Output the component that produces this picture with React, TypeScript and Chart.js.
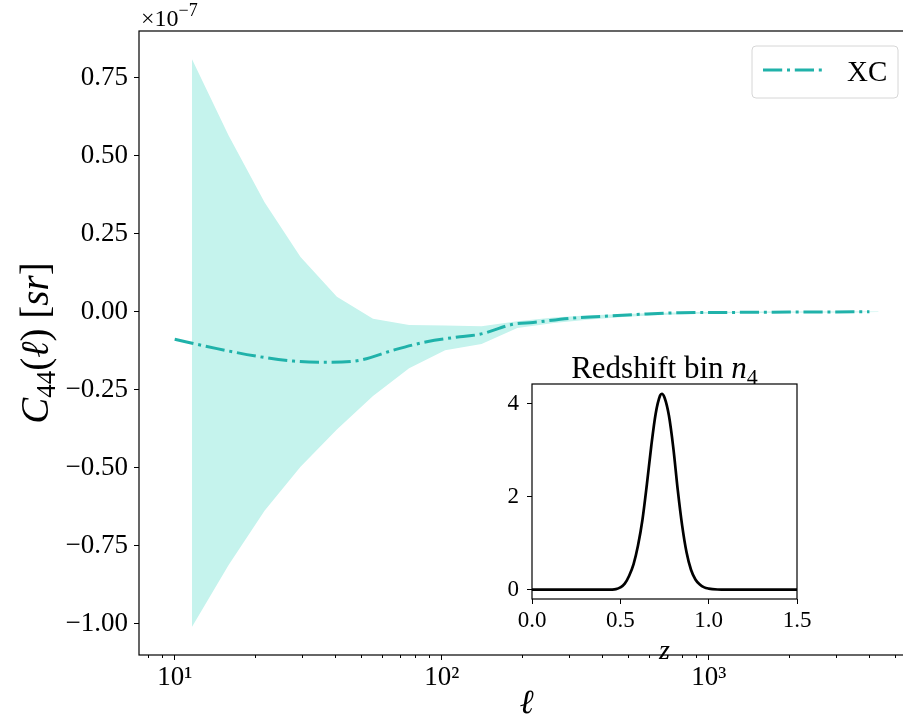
import React, { useEffect, useRef } from 'react';
import { Chart, registerables } from 'chart.js';

Chart.register(...registerables);

const SERIF = "'Liberation Serif', 'DejaVu Serif', serif";
const LINE_COLOR = '#20b2aa';
const BAND_COLOR = '#c5f3ed';

// ---- main panel: C_44(l) in units of 1e-7 sr ----
const ellTheory = [10, 14.4, 20.8, 27.8, 38.2, 49.5, 65.9, 87.9, 117, 139, 185, 220, 303, 427, 587, 782, 1200, 2000, 4000];
const clTheory = [-0.088, -0.118, -0.144, -0.158, -0.162, -0.155, -0.123, -0.096, -0.08, -0.072, -0.04, -0.034, -0.021, -0.013, -0.007, -0.003, -0.002, -0.001, 0.0];

const ellBand = [11.6, 15.9, 21.7, 29.6, 40.5, 55.3, 75.5, 103, 141, 192, 263, 359, 490, 669, 913, 1250, 1700, 2320, 3170, 4330];
const bandUpper = [0.81, 0.566, 0.351, 0.176, 0.048, -0.022, -0.042, -0.044, -0.046, -0.03, -0.018, -0.011, -0.007, -0.003, -0.001, 0.0, 0.001, 0.001, 0.001, 0.001];
const bandLower = [-1.01, -0.812, -0.638, -0.497, -0.377, -0.27, -0.181, -0.123, -0.103, -0.052, -0.036, -0.025, -0.016, -0.01, -0.006, -0.004, -0.003, -0.002, -0.002, -0.001];

const yTicks = [-1.0, -0.75, -0.5, -0.25, 0, 0.25, 0.5, 0.75];
const xMajorTicks = [10, 100, 1000];
const xMinorTicks = [8, 9, 20, 30, 40, 50, 60, 70, 80, 90, 200, 300, 400, 500, 600, 700, 800, 900, 2000, 3000, 4000, 5000];
const X_MIN = 7.35;
const X_MAX = 5875;
const Y_MIN = -1.1;
const Y_MAX = 0.9;

// ---- inset: redshift distribution n_4(z) ----
const zGrid = [0, 0.1, 0.2, 0.3, 0.4, 0.45, 0.475, 0.5, 0.525, 0.55, 0.575, 0.6, 0.625, 0.65, 0.675, 0.7, 0.725, 0.735, 0.75, 0.775, 0.8, 0.825, 0.85, 0.875, 0.9, 0.925, 0.95, 0.975, 1.0, 1.05, 1.1, 1.2, 1.3, 1.4, 1.5];
const nz = [0, 0, 0, 0, 0, 0.003, 0.012, 0.05, 0.13, 0.3, 0.55, 0.95, 1.5, 2.26, 3.09, 3.79, 4.18, 4.22, 4.14, 3.75, 3.05, 2.15, 1.38, 0.8, 0.43, 0.22, 0.11, 0.05, 0.025, 0.005, 0, 0, 0, 0, 0];
const insetXTicks = [0, 0.5, 1.0, 1.5];
const insetYTicks = [0, 2, 4];

const SUP: Record<string, string> = { '0': '⁰', '1': '¹', '2': '²', '3': '³', '4': '⁴', '5': '⁵' };

type Seg = { t: string; size: number; italic?: boolean; dy?: number };
const fontOf = (s: Seg) => `${s.italic ? 'italic ' : ''}${s.size}px ${SERIF}`;

function drawRich(ctx: CanvasRenderingContext2D, segs: Seg[], x: number, y: number, align: 'left' | 'center') {
  ctx.save();
  ctx.textBaseline = 'alphabetic';
  ctx.textAlign = 'left';
  ctx.fillStyle = '#000';
  let total = 0;
  for (const s of segs) {
    ctx.font = fontOf(s);
    total += ctx.measureText(s.t).width;
  }
  let cx = align === 'center' ? x - total / 2 : x;
  for (const s of segs) {
    ctx.font = fontOf(s);
    ctx.fillText(s.t, cx, y + (s.dy || 0));
    cx += ctx.measureText(s.t).width;
  }
  ctx.restore();
}

const framePlugin = {
  id: 'frame',
  afterDatasetsDraw(chart: any) {
    const { ctx, chartArea: a } = chart;
    ctx.save();
    ctx.strokeStyle = '#000';
    ctx.lineWidth = 1.2;
    ctx.strokeRect(a.left, a.top, a.right - a.left, a.bottom - a.top);
    ctx.restore();
  },
};

const whiteAreaPlugin = {
  id: 'whiteArea',
  beforeDraw(chart: any) {
    const { ctx, chartArea: a } = chart;
    ctx.save();
    ctx.fillStyle = '#fff';
    ctx.fillRect(a.left, a.top, a.right - a.left, a.bottom - a.top);
    ctx.restore();
  },
};

const mainDecorPlugin = {
  id: 'mainDecor',
  afterDraw(chart: any) {
    const { ctx, chartArea: a } = chart;
    // offset text
    drawRich(ctx, [
      { t: '×10', size: 24 },
      { t: '−7', size: 18, dy: -10 },
    ], a.left + 2, 26, 'left');
    // y-axis label (rotated)
    ctx.save();
    ctx.translate(48, (a.top + a.bottom) / 2);
    ctx.rotate(-Math.PI / 2);
    drawRich(ctx, [
      { t: 'C', size: 39, italic: true },
      { t: '44', size: 27, dy: 7 },
      { t: '(', size: 39 },
      { t: 'ℓ', size: 39, italic: true },
      { t: ')', size: 39 },
      { t: ' ', size: 39 },
      { t: '[', size: 39 },
      { t: 'sr', size: 39, italic: true },
      { t: ']', size: 39 },
    ], 0, 0, 'center');
    ctx.restore();
    // legend
    const ds = chart.data.datasets[0];
    const w = 146, h = 52;
    const bx = a.right - 16 - w;
    const by = a.top + 15;
    ctx.save();
    ctx.beginPath();
    const r = 4;
    ctx.moveTo(bx + r, by);
    ctx.lineTo(bx + w - r, by);
    ctx.arcTo(bx + w, by, bx + w, by + r, r);
    ctx.lineTo(bx + w, by + h - r);
    ctx.arcTo(bx + w, by + h, bx + w - r, by + h, r);
    ctx.lineTo(bx + r, by + h);
    ctx.arcTo(bx, by + h, bx, by + h - r, r);
    ctx.lineTo(bx, by + r);
    ctx.arcTo(bx, by, bx + r, by, r);
    ctx.closePath();
    ctx.fillStyle = 'rgba(255,255,255,0.8)';
    ctx.fill();
    ctx.strokeStyle = '#d6d6d6';
    ctx.lineWidth = 1;
    ctx.stroke();
    ctx.beginPath();
    ctx.setLineDash(ds.borderDash);
    ctx.lineCap = 'butt';
    ctx.strokeStyle = ds.borderColor;
    ctx.lineWidth = ds.borderWidth;
    ctx.moveTo(bx + 11, by + 24);
    ctx.lineTo(bx + 70, by + 24);
    ctx.stroke();
    ctx.setLineDash([]);
    ctx.restore();
    drawRich(ctx, [{ t: ds.label, size: 29 }], bx + 95, by + 35, 'left');
  },
};

const insetDecorPlugin = {
  id: 'insetDecor',
  afterDraw(chart: any) {
    const { ctx, chartArea: a } = chart;
    drawRich(ctx, [
      { t: 'Redshift bin ', size: 31 },
      { t: 'n', size: 31, italic: true },
      { t: '4', size: 22, dy: 6 },
    ], (a.left + a.right) / 2, a.top - 6, 'center');
  },
};

const signed = (v: number, d: number) => (v < 0 ? '−' + Math.abs(v).toFixed(d) : v.toFixed(d));

export default function App() {
  const mainRef = useRef<HTMLCanvasElement>(null);
  const insetRef = useRef<HTMLCanvasElement>(null);

  useEffect(() => {
    const main = new Chart(mainRef.current as HTMLCanvasElement, {
      type: 'line',
      data: {
        datasets: [
          {
            label: 'XC',
            data: ellTheory.map((x, i) => ({ x, y: clTheory[i] })),
            borderColor: LINE_COLOR,
            borderWidth: 3,
            borderDash: [19.2, 4.8, 3, 4.8],
            borderCapStyle: 'butt',
            pointRadius: 0,
            fill: false,
            cubicInterpolationMode: 'monotone',
            xAxisID: 'x',
            yAxisID: 'y',
          },
          {
            label: 'upper',
            data: ellBand.map((x, i) => ({ x, y: bandUpper[i] })),
            borderWidth: 0,
            borderColor: 'rgba(0,0,0,0)',
            backgroundColor: BAND_COLOR,
            pointRadius: 0,
            fill: '+1',
            tension: 0,
            xAxisID: 'x',
            yAxisID: 'y',
          },
          {
            label: 'lower',
            data: ellBand.map((x, i) => ({ x, y: bandLower[i] })),
            borderWidth: 0,
            borderColor: 'rgba(0,0,0,0)',
            backgroundColor: BAND_COLOR,
            pointRadius: 0,
            fill: false,
            tension: 0,
            xAxisID: 'x',
            yAxisID: 'y',
          },
        ],
      } as any,
      options: {
        responsive: false,
        animation: false,
        devicePixelRatio: 1,
        layout: { padding: { left: 0, top: 31, right: 6, bottom: 0 } },
        plugins: { legend: { display: false }, tooltip: { enabled: false } },
        scales: {
          x: {
            type: 'logarithmic',
            axis: 'x',
            position: 'bottom',
            weight: 1,
            bounds: 'data',
            min: X_MIN,
            max: X_MAX,
            afterBuildTicks: (s: any) => {
              s.ticks = xMajorTicks.map((v) => ({ value: v, major: true }));
            },
            afterFit: (s: any) => {
              s.height = 66;
            },
            grid: { display: true, drawOnChartArea: false, drawTicks: true, tickLength: 5, tickColor: '#000', tickWidth: 1 },
            border: { display: false },
            ticks: {
              autoSkip: false,
              maxRotation: 0,
              padding: 2,
              color: '#000',
              font: { family: SERIF, size: 27 },
              callback: (v: any) => {
                const e = Math.round(Math.log10(Number(v)));
                return '10' + (SUP[String(e)] || '');
              },
            },
            title: {
              display: true,
              text: 'ℓ',
              color: '#000',
              font: { family: SERIF, size: 34, style: 'italic', lineHeight: 1 },
              padding: { top: 0, bottom: 0 },
            },
          },
          xm: {
            type: 'logarithmic',
            axis: 'x',
            position: 'bottom',
            weight: 0,
            bounds: 'data',
            min: X_MIN,
            max: X_MAX,
            afterBuildTicks: (s: any) => {
              s.ticks = xMinorTicks.map((v) => ({ value: v }));
            },
            afterFit: (s: any) => {
              s.height = 0;
            },
            grid: { display: true, drawOnChartArea: false, drawTicks: true, tickLength: 3, tickColor: '#000', tickWidth: 1 },
            border: { display: false },
            ticks: { display: false, autoSkip: false },
          },
          y: {
            type: 'linear',
            position: 'left',
            bounds: 'data',
            min: Y_MIN,
            max: Y_MAX,
            afterBuildTicks: (s: any) => {
              s.ticks = yTicks.map((v) => ({ value: v }));
            },
            afterFit: (s: any) => {
              s.width = 139;
            },
            grid: { display: true, drawOnChartArea: false, drawTicks: true, tickLength: 5, tickColor: '#000', tickWidth: 1 },
            border: { display: false },
            ticks: {
              autoSkip: false,
              padding: 6,
              color: '#000',
              font: { family: SERIF, size: 27 },
              callback: (v: any) => signed(Number(v), 2),
            },
          },
        },
      } as any,
      plugins: [framePlugin, mainDecorPlugin],
    });

    const inset = new Chart(insetRef.current as HTMLCanvasElement, {
      type: 'line',
      data: {
        datasets: [
          {
            label: 'n4',
            data: zGrid.map((x, i) => ({ x, y: nz[i] })),
            borderColor: '#000',
            borderWidth: 2.7,
            pointRadius: 0,
            fill: false,
            cubicInterpolationMode: 'monotone',
          },
        ],
      } as any,
      options: {
        responsive: false,
        animation: false,
        devicePixelRatio: 1,
        layout: { padding: { left: 0, top: 39, right: 43, bottom: 0 } },
        plugins: { legend: { display: false }, tooltip: { enabled: false } },
        scales: {
          x: {
            type: 'linear',
            bounds: 'data',
            min: 0,
            max: 1.5,
            afterBuildTicks: (s: any) => {
              s.ticks = insetXTicks.map((v) => ({ value: v }));
            },
            afterFit: (s: any) => {
              s.height = 67;
            },
            grid: { display: true, drawOnChartArea: false, drawTicks: true, tickLength: 5, tickColor: '#000', tickWidth: 1 },
            border: { display: false },
            ticks: {
              autoSkip: false,
              maxRotation: 0,
              padding: 3,
              color: '#000',
              font: { family: SERIF, size: 23 },
              callback: (v: any) => Number(v).toFixed(1),
            },
            title: {
              display: true,
              text: 'z',
              color: '#000',
              font: { family: SERIF, size: 28, style: 'italic', lineHeight: 1 },
              padding: { top: 0, bottom: 0 },
            },
          },
          y: {
            type: 'linear',
            bounds: 'data',
            min: -0.2,
            max: 4.43,
            afterBuildTicks: (s: any) => {
              s.ticks = insetYTicks.map((v) => ({ value: v }));
            },
            afterFit: (s: any) => {
              s.width = 42;
            },
            grid: { display: true, drawOnChartArea: false, drawTicks: true, tickLength: 5, tickColor: '#000', tickWidth: 1 },
            border: { display: false },
            ticks: {
              autoSkip: false,
              padding: 8,
              color: '#000',
              font: { family: SERIF, size: 23 },
              callback: (v: any) => String(v),
            },
          },
        },
      } as any,
      plugins: [whiteAreaPlugin, framePlugin, insetDecorPlugin],
    });

    return () => {
      main.destroy();
      inset.destroy();
    };
  }, []);

  return (
    <div style={{ position: 'fixed', left: 0, top: 0, width: 903, height: 721, overflow: 'hidden', background: '#fff' }}>
      <canvas ref={mainRef} width={920} height={721} style={{ position: 'absolute', left: 0, top: 0, width: 920, height: 721 }} />
      <canvas ref={insetRef} width={350} height={321} style={{ position: 'absolute', left: 490, top: 345, width: 350, height: 321 }} />
    </div>
  );
}
